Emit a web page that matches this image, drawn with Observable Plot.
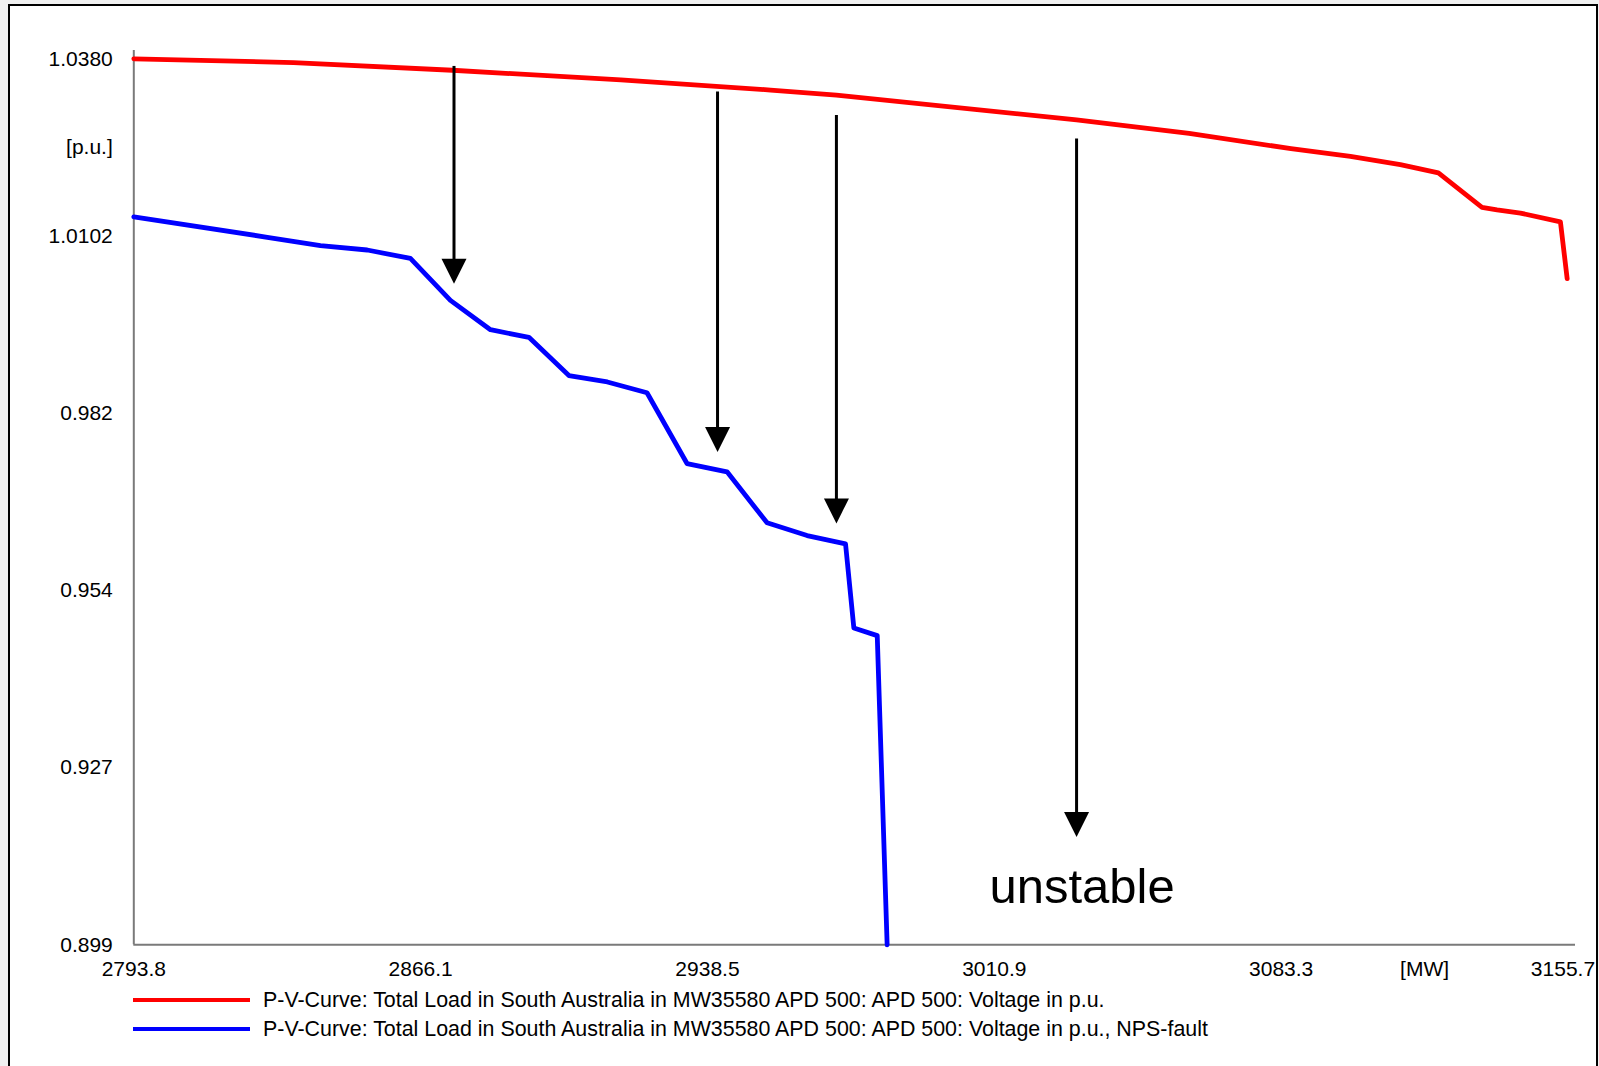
<!DOCTYPE html>
<html><head><meta charset="utf-8">
<script src="https://cdn.jsdelivr.net/npm/d3@7"></script>
<script src="https://cdn.jsdelivr.net/npm/@observablehq/plot@0.6"></script>
<style>
html,body{margin:0;padding:0;background:#f0f0f0;width:1599px;height:1066px;overflow:hidden;}
#frame{position:absolute;left:8px;top:4px;width:1590px;height:1100px;box-sizing:border-box;border:2px solid #000;background:#fff;}
#chart{position:absolute;left:10px;top:6px;}
#chart svg{overflow:visible;}
.leg{position:absolute;font-family:"Liberation Sans",Arial,sans-serif;font-size:21.4px;line-height:21px;color:#000;white-space:nowrap;}
.sw{position:absolute;height:4px;width:117px;}
</style></head>
<body>
<div id="frame"></div>
<div id="chart"></div>
<div id="legend"></div>
<script>
// Axis ticks (as printed on the chart)
const xTickValues = [2793.8, 2866.18, 2938.56, 3010.94, 3083.32, 3119.51, 3155.7];
const xTickLabels = ["2793.8", "2866.1", "2938.5", "3010.9", "3083.3", "[MW]", "3155.7"];
const yTickValues = [1.038, 1.0241, 1.0102, 0.9824, 0.9546, 0.9268, 0.899];
const yTickLabels = ["1.0380", "[p.u.]", "1.0102", "0.982", "0.954", "0.927", "0.899"];

// Series 1: base case (red)
const redLoad    = [2793.8, 2834.1, 2874.2, 2916.7, 2954.5, 2971.1, 3031.7, 3060.1, 3085.8, 3100.8, 3113.4, 3123.0, 3134.0, 3137.8, 3143.7, 3153.8, 3155.5];
const redVoltage = [1.0380, 1.0374, 1.0362, 1.0347, 1.0331, 1.0323, 1.0284, 1.0263, 1.0239, 1.0227, 1.0214, 1.0201, 1.0147, 1.0143, 1.0138, 1.0124, 1.0035];

// Series 2: NPS-fault (blue)
const blueLoad    = [2793.8, 2827.5, 2840.9, 2852.7, 2863.6, 2873.7, 2883.8, 2893.5, 2903.6, 2913.3, 2923.3, 2933.4, 2943.5, 2953.6, 2963.7, 2973.4, 2975.5, 2981.4, 2983.9];
const blueVoltage = [1.0132, 1.0100, 1.0087, 1.0080, 1.0067, 1.0001, 0.9955, 0.9943, 0.9883, 0.9873, 0.9856, 0.9745, 0.9732, 0.9652, 0.9632, 0.9619, 0.9487, 0.9475, 0.8990];

// Annotation arrows
const arrowLoad = [2874.6, 2941.1, 2971.1, 3031.7];
const arrowTop  = [1.0368, 1.0328, 1.0291, 1.0254];
const arrowTip  = [1.0027, 0.9763, 0.9651, 0.9159];

// Annotation text
const noteText = ["unstable"];
const noteLoad = [3033.1];
const noteVoltage = [0.9080];

const seriesNames = [
  "P-V-Curve: Total Load in South Australia in MW35580 APD 500: APD 500: Voltage in p.u.",
  "P-V-Curve: Total Load in South Australia in MW35580 APD 500: APD 500: Voltage in p.u., NPS-fault"
];
const seriesColors = ["#ff0000", "#0000ff"];

const data = [
  ...redLoad.map((x, i) => ({series: seriesNames[0], x, y: redVoltage[i]})),
  ...blueLoad.map((x, i) => ({series: seriesNames[1], x, y: blueVoltage[i]}))
];
const arrows = arrowLoad.map((x, i) => ({x, top: arrowTop[i], tip: arrowTip[i]}));
const notes = noteText.map((t, i) => ({t, x: noteLoad[i], y: noteVoltage[i]}));

const downTriangle = {
  draw(context) {
    context.moveTo(0, 0);
    context.lineTo(-12.5, -25);
    context.lineTo(12.5, -25);
    context.closePath();
  }
};

const fmtX = d => xTickLabels[xTickValues.indexOf(d)];
const lastX = xTickValues[xTickValues.length - 1];

const chart = Plot.plot({
  width: 1588,
  height: 980,
  marginLeft: 123.3,
  marginRight: 23,
  marginTop: 44,
  marginBottom: 41.7,
  style: {fontFamily: "'Liberation Sans',Arial,sans-serif", fontSize: "21px", color: "#000", background: "transparent", overflow: "visible"},
  x: {domain: [2793.8, 3157.6]},
  y: {domain: [0.899, 1.0393], ticks: yTickValues, tickFormat: d => yTickLabels[yTickValues.indexOf(d)], tickSize: 0, tickPadding: 21, label: null},
  color: {domain: seriesNames, range: seriesColors},
  marks: [
    Plot.axisX(xTickValues.slice(0, -1), {tickFormat: fmtX, tickSize: 0, tickPadding: 16, label: null}),
    Plot.axisX([lastX], {tickFormat: fmtX, tickSize: 0, tickPadding: 16, label: null, dx: -5}),
    Plot.ruleY([0.899], {stroke: "#7a7a7a", strokeWidth: 2}),
    Plot.ruleX([2793.8], {stroke: "#7a7a7a", strokeWidth: 2}),
    Plot.line(data, {x: "x", y: "y", z: "series", stroke: "series", strokeWidth: 4.8, strokeLinejoin: "round", strokeLinecap: "round"}),
    Plot.ruleX(arrows, {x: "x", y1: "top", y2: "tip", stroke: "#000", strokeWidth: 3, insetBottom: 14}),
    Plot.dot(arrows, {x: "x", y: "tip", symbol: downTriangle, r: 5, fill: "#000", stroke: "none"}),
    Plot.text(notes, {x: "x", y: "y", text: "t", fontSize: 49, fontFamily: "'Liberation Sans',Arial,sans-serif", fill: "#000"})
  ]
});
document.getElementById("chart").appendChild(chart);

// Legend below the plot
const legend = document.getElementById("legend");
const legendY = [1000.4, 1029];
seriesNames.forEach((name, i) => {
  const sw = document.createElement("div");
  sw.className = "sw";
  sw.style.left = "133px";
  sw.style.top = (legendY[i] - 2) + "px";
  sw.style.background = seriesColors[i];
  legend.appendChild(sw);
  const t = document.createElement("div");
  t.className = "leg";
  t.style.left = "263px";
  t.style.top = (legendY[i] - 10.5) + "px";
  t.textContent = name;
  legend.appendChild(t);
});
</script>
</body></html>
